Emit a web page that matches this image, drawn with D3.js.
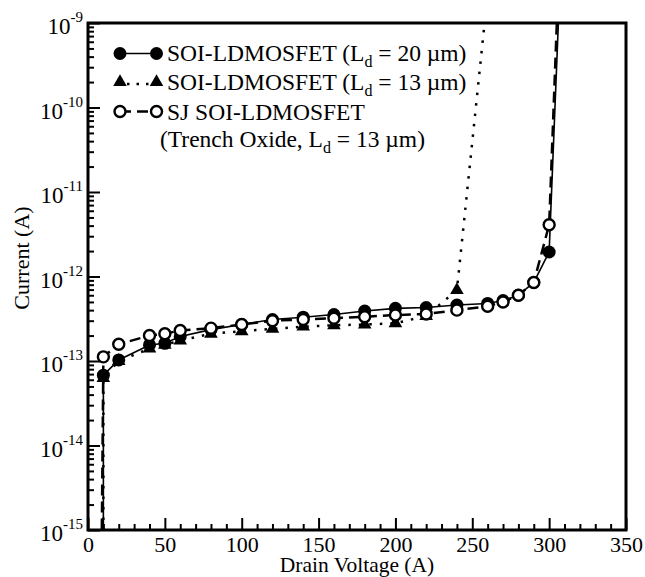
<!DOCTYPE html>
<html>
<head>
<meta charset="utf-8">
<script src="https://cdn.jsdelivr.net/npm/d3@7"></script>
<style>
  body { margin: 0; background: #fff; }
  text { font-family: "Liberation Serif", "Times New Roman", serif; fill: #000; }
</style>
</head>
<body>
<div id="my_dataviz"></div>
<script>
// values
var voltage = [10, 20, 40, 50, 60, 80, 100, 120, 140, 160, 180, 200, 220, 240, 260, 270, 280, 290, 300];
var currentLd20 = [6.8e-14, 1.03e-13, 1.55e-13, 1.62e-13, 1.95e-13, 2.35e-13, 2.7e-13, 3.1e-13, 3.3e-13, 3.55e-13,
    3.9e-13, 4.2e-13, 4.3e-13, 4.6e-13, 4.8e-13, 5.2e-13, 6.0e-13, 8.5e-13, 1.95e-12];
var voltageLd13 = [10, 20, 40, 50, 60, 80, 100, 120, 140, 160, 180, 200, 220, 240];
var currentLd13 = [6.3e-14, 1.0e-13, 1.4e-13, 1.55e-13, 1.75e-13, 2.1e-13, 2.25e-13, 2.4e-13, 2.55e-13, 2.65e-13,
    2.7e-13, 2.8e-13, 3.4e-13, 6.9e-13];
var currentSJ = [1.12e-13, 1.58e-13, 2.0e-13, 2.1e-13, 2.3e-13, 2.45e-13, 2.7e-13, 3.0e-13, 3.1e-13, 3.2e-13,
    3.34e-13, 3.5e-13, 3.6e-13, 4.0e-13, 4.45e-13, 5.0e-13, 6.0e-13, 8.5e-13, 4.1e-12];

// line-only points: turn-on below the axis and breakdown past the top
var startLd20 = [10, 1e-16], endLd20 = [306, 1e-9];
var startLd13 = [10, 1e-16], endLd13 = [258, 1e-9];
var startSJ = [8.5, 1e-16], endSJ = [305, 1e-9];

var xTicks = [0, 50, 100, 150, 200, 250, 300, 350];
var yDecades = [-15, -14, -13, -12, -11, -10, -9];

// set the dimensions and margins of the graph
var W = 645, H = 577;
var margin = { top: 23, right: 19, bottom: 47, left: 88 },
    width = W - margin.left - margin.right,
    height = H - margin.top - margin.bottom;

var svg = d3.select("#my_dataviz")
    .append("svg")
    .attr("width", W)
    .attr("height", H)
    .append("g")
    .attr("transform", "translate(" + margin.left + "," + margin.top + ")");

var x = d3.scaleLinear().domain([0, 350]).range([0, width]);
var y = d3.scaleLog().domain([1e-15, 1e-9]).range([height, 0]);

/*********************
 * AXES (ticks inside)
*********************/
var xMinor = d3.range(0, 351, 10).filter(function (d) { return d % 50 != 0 });
var yMinor = [];
yDecades.slice(0, -1).forEach(function (k) {
    for (var m = 2; m <= 9; m++) yMinor.push(m * Math.pow(10, k));
});

var xAxis = svg.append("g")
    .attr("transform", "translate(0," + height + ")")
    .call(d3.axisBottom(x).tickValues(xTicks).tickSize(-12).tickPadding(6).tickFormat(d3.format("d")));
xAxis.selectAll("text").style("font-size", "22px").style("font-family", "Liberation Serif");
svg.append("g")
    .attr("transform", "translate(0," + height + ")")
    .call(d3.axisBottom(x).tickValues(xMinor).tickSize(-6).tickFormat(""));

svg.append("g")
    .call(d3.axisLeft(y).tickValues(yDecades.map(function (k) { return Math.pow(10, k) })).tickSize(-12).tickFormat(""));
svg.append("g")
    .call(d3.axisLeft(y).tickValues(yMinor).tickSize(-6).tickFormat(""));

svg.selectAll(".domain").remove();
svg.selectAll(".tick line").style("stroke", "#000").style("stroke-width", 2);

// y tick labels with superscript exponent
svg.append("g").selectAll("text")
    .data(yDecades)
    .enter()
    .append("text")
    .attr("x", -5)
    .attr("y", function (d) { return y(Math.pow(10, d)) + 11 })
    .attr("text-anchor", "end")
    .style("font-size", "23px")
    .each(function (d) {
        var t = d3.select(this);
        t.append("tspan").text("10");
        t.append("tspan").attr("dy", -12).style("font-size", "15px").text(d);
    });

// frame
svg.append("rect")
    .attr("width", width)
    .attr("height", height)
    .style("fill", "none")
    .style("stroke", "#000")
    .style("stroke-width", 3);

// axis titles
svg.append("text")
    .attr("x", width / 2)
    .attr("y", height + 42)
    .attr("text-anchor", "middle")
    .style("font-size", "21.5px")
    .text("Drain Voltage (A)");

svg.append("text")
    .attr("transform", "translate(" + (29 - margin.left) + "," + (258 - margin.top) + ") rotate(-90)")
    .attr("text-anchor", "middle")
    .style("font-size", "22px")
    .text("Current (A)");

/*********************
 * SERIES
*********************/
svg.append("clipPath").attr("id", "plotclip")
    .append("rect").attr("width", width).attr("height", height);

function pts(vs, cs) { return vs.map(function (v, i) { return [v, cs[i]] }) }

var ld20 = pts(voltage, currentLd20);
var ld13 = pts(voltageLd13, currentLd13);
var sj = pts(voltage, currentSJ);

var line = d3.line()
    .x(function (d) { return x(d[0]) })
    .y(function (d) { return y(d[1]) });

var lines = svg.append("g").attr("clip-path", "url(#plotclip)");
lines.append("path")
    .datum([startLd13].concat(ld13, [endLd13]))
    .attr("d", line)
    .style("fill", "none").style("stroke", "#000").style("stroke-width", 2.5)
    .style("stroke-dasharray", "2.5,8");
lines.append("path")
    .datum([startLd20].concat(ld20, [endLd20]))
    .attr("d", line)
    .style("fill", "none").style("stroke", "#000").style("stroke-width", 1.6);
lines.append("path")
    .datum([startSJ].concat(sj, [endSJ]))
    .attr("d", line)
    .style("fill", "none").style("stroke", "#000").style("stroke-width", 2.5)
    .style("stroke-dasharray", "11,6");

var tri = d3.symbol().type(d3.symbolTriangle).size(80);

function triangles(g, data) {
    g.selectAll("tri").data(data).enter().append("path")
        .attr("d", tri)
        .attr("transform", function (d) { return "translate(" + d[0] + "," + d[1] + ")" })
        .style("fill", "#000");
}
function dots(g, data) {
    g.selectAll("dot").data(data).enter().append("circle")
        .attr("cx", function (d) { return d[0] }).attr("cy", function (d) { return d[1] })
        .attr("r", 6.5).style("fill", "#000");
}
function rings(g, data) {
    g.selectAll("ring").data(data).enter().append("circle")
        .attr("cx", function (d) { return d[0] }).attr("cy", function (d) { return d[1] })
        .attr("r", 5.5).style("fill", "#fff").style("stroke", "#000").style("stroke-width", 2.4);
}
function px(data) { return data.map(function (d) { return [x(d[0]), y(d[1])] }) }

var marks = svg.append("g");
triangles(marks, px(ld13));
dots(marks, px(ld20));
rings(marks, px(sj));

/*********************
 * LEGEND
*********************/
var legendRows = [
    { pre: "SOI-LDMOSFET (L", sub: "d", post: " = 20 \u00b5m)" },
    { pre: "SOI-LDMOSFET (L", sub: "d", post: " = 13 \u00b5m)" },
    { pre: "SJ SOI-LDMOSFET", sub: "", post: "" },
    { pre: "(Trench Oxide, L", sub: "d", post: " = 13 \u00b5m)" }
];
var lg = svg.append("g").attr("transform", "translate(" + (-margin.left) + "," + (-margin.top) + ")");
var rowY = [53.5, 82, 111.5];
var x1 = 120, x2 = 156.5;

lg.append("line").attr("x1", x1).attr("x2", x2).attr("y1", rowY[0]).attr("y2", rowY[0])
    .style("stroke", "#000").style("stroke-width", 1.6);
lg.append("line").attr("x1", x1 + 7).attr("x2", x2 - 5).attr("y1", rowY[1] + 2).attr("y2", rowY[1] + 2)
    .style("stroke", "#000").style("stroke-width", 2.5).style("stroke-dasharray", "2.5,7");
lg.append("line").attr("x1", x1).attr("x2", x2).attr("y1", rowY[2]).attr("y2", rowY[2])
    .style("stroke", "#000").style("stroke-width", 2.5).style("stroke-dasharray", "11,6");
dots(lg, [[x1, rowY[0]], [x2, rowY[0]]]);
triangles(lg, [[x1, rowY[1]], [x2, rowY[1]]]);
rings(lg, [[x1, rowY[2]], [x2, rowY[2]]]);

lg.selectAll("ltext")
    .data(legendRows)
    .enter()
    .append("text")
    .attr("x", function (d, i) { return i == 3 ? 160 : 167 })
    .attr("y", function (d, i) { return [61, 90, 120, 147][i] })
    .style("font-size", "23.5px")
    .each(function (d) {
        var t = d3.select(this);
        t.append("tspan").text(d.pre);
        if (d.sub) {
            t.append("tspan").attr("dy", 6).style("font-size", "16px").text(d.sub);
            t.append("tspan").attr("dy", -6).text(d.post);
        }
    });
</script>
</body>
</html>
